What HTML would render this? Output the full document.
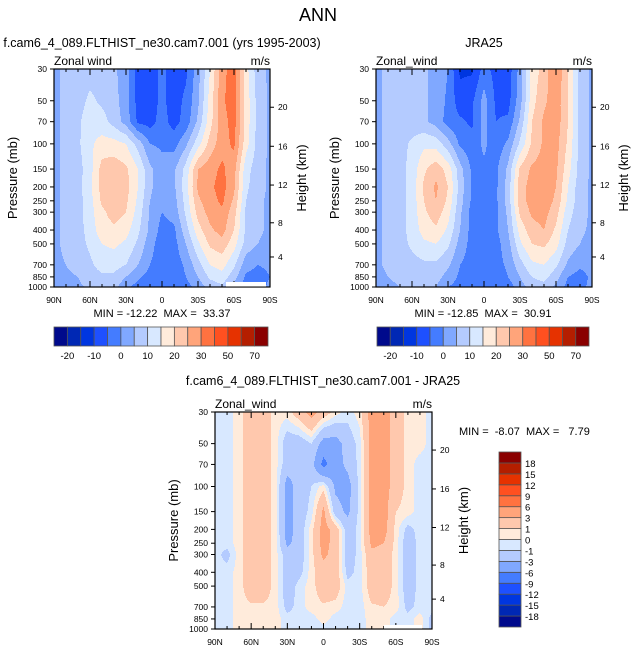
<!DOCTYPE html>
<html><head><meta charset="utf-8"><style>
html,body{margin:0;padding:0;background:#fff;}
svg{display:block;font-family:"Liberation Sans",sans-serif;}
text{white-space:pre;}
</style></head><body>
<svg id="fig" width="636" height="653" viewBox="0 0 636 653" xmlns="http://www.w3.org/2000/svg">
<text x="318" y="21" font-size="18" text-anchor="middle">ANN</text>
<g id="root"></g>
</svg>
<script>
// ---- data ----
const lats = [90,80,70,60,50,40,30,20,10,0,-10,-20,-30,-40,-50,-60,-70,-80,-90];
const levels = [30,50,70,100,150,200,250,300,400,500,700,850,1000];
const pTicks = [30,50,70,100,150,200,250,300,400,500,700,850,1000];
const latTickVals = [90,60,30,0,-30,-60,-90];
const latTickLabels = ["90N","60N","30N","0","30S","60S","90S"];
const hTickLabels = ["4","8","12","16","20"];
const hTickPressures = [617,356,194,104,55.5];
const boundsWind = [-20,-15,-10,-5,0,5,10,15,20,25,30,40,50,60,70];
const windLabels = ["-20","-10","0","10","20","30","50","70"];
const boundsDiff = [-18,-15,-12,-9,-6,-3,-1,0,1,3,6,9,12,15,18];
const diffLabels = ["18","15","12","9","6","3","1","0","-1","-3","-6","-9","-12","-15","-18"];
const colors = ["#000a8c","#0028b4","#0036e0","#1e50ff","#447cff","#80a8ff","#b4cbff","#d8e8ff","#ffebdb","#ffc8ad","#ffa47a","#ff7240","#ff5020","#e63200","#b41e00","#8a0000"];

const modelWind = [
[4,6,8,8,8,6,2,-7,-7,-4,-7,-6,3,15,28,33,17,7,4],
[4,6,8,11,9,7,2,-7,-7,-4,-7,-4,4,17,29,33,18,8,4],
[4,6,9,13,12,8,3,-6,-7,-3,-7,-3,6,18,28,32,18,8,4],
[4,6,9,14,17,17,15,8,0,-1,-2,4,13,22,28,31,17,8,4],
[4,6,8,13,22,23,21,15,6,2,4,12,25,28,31,27,12,7,4],
[4,6,8,14,22,24,22,15,6,2,4,13,26,29,32,26,11,7,4],
[4,6,8,13,21,23,21,14,5,1,3,12,24,28,31,24,10,6,4],
[4,6,8,13,19,22,20,13,4,0,2,11,22,27,29,22,9,6,4],
[4,6,8,12,18,19,17,11,4,-2,-1,8,18,24,27,20,9,6,4],
[4,6,8,11,15,16,14,9,2,-3,-2,5,14,21,23,17,8,5,3],
[4,5,7,9,12,12,10,5,0,-3,-3,1,8,15,17,11,2,0,1],
[3,4,5,8,9,9,5,1,-2,-3,-3,0,5,11,13,7,-1,-2,0],
[2,3,4,6,7,7,1,-2,-3,-4,-3,-2,2,7,9,4,-3,-2,1]];

const obsWind = [
[4,6,7,7,6,3,0,-11,-11,-3,-7,-8,2,17,22,30,20,8,4],
[4,6,7,7,6,3,-1,-8,-6,2,-6,-7,3,18,24,28,20,8,4],
[4,6,7,7,6,3,-2,-4,-6,2,-5,-4,6,20,26,28,20,8,4],
[4,6,8,11,14,13,7,-1,-3,1,-3,1,11,21,26,27,19,8,4],
[4,6,8,12,19,23,18,7,-1,-1,-1,6,21,26,27,26,17,8,4],
[4,6,8,12,21,26,20,8,-1,-2,-1,7,23,27,28,25,15,7,4],
[4,6,8,12,20,25,19,7,-1,-2,-1,7,23,27,28,24,14,7,4],
[4,6,8,12,19,23,17,6,-2,-2,-1,6,21,26,27,22,12,7,4],
[4,6,8,12,17,19,14,5,-2,-2,-1,5,17,23,25,19,10,6,4],
[4,6,8,11,14,15,11,3,-2,-3,-2,3,14,20,21,17,8,5,3],
[4,6,7,8,9,9,6,0,-2,-3,-2,1,8,14,15,11,4,1,2],
[3,5,6,7,7,7,3,-1,-3,-3,-3,0,5,10,12,7,0,-2,1],
[2,4,5,5,6,5,0,-2,-3,-3,-3,-3,3,7,8,4,-2,-1,1]];

const diffWind = [
[-0.5,-0.5,0.5,2,2,0.5,0.5,2,4,2,0.5,-0.5,0.5,4,4,2,0.5,0.5,-0.5],
[-0.5,-0.5,0.5,2,2,0.5,-2,-2,-1,-4,-4,-2,-0.5,4,4,2,0.5,0.5,-0.5],
[-0.5,-0.5,0.5,2,2,0.5,-2,-2,-2,-7,-4,-2.5,-0.5,4,4,2,0.5,-0.5,-0.5],
[-0.5,-0.5,0.5,2,2,0.5,-4,-2,-1,0.5,-3.5,-4,-0.5,4,4,2,0.5,-0.5,-0.5],
[-0.5,-0.5,0.5,2,2,0.5,-4,-2,-0.5,3.5,-2,-3.5,-0.5,4,4,1,0.5,-0.5,-0.5],
[-0.5,-0.5,0.5,2,2,0.5,-4,-2,0.5,4,2,-2,-0.5,4,4,0.5,-1.5,-0.5,-0.5],
[-0.5,-0.5,0.5,2,2,0.5,-3.5,-2,0.5,4,2,-2,-0.5,3.5,3,0.5,-2,-0.5,-0.5],
[-0.5,-1.5,0.5,2,2,0.5,-2,-2,0.5,3.5,2,-2,-0.5,2.5,2,0.5,-2,-0.5,-0.5],
[-0.5,-0.5,0.5,2,2,0.5,-2,-1.5,0.5,2,2,-1.5,-0.5,2,2,0.5,-2,-0.5,-0.5],
[-0.5,-0.5,0.5,2,2,0.5,-2,-0.5,0.5,2,2,-0.5,-0.5,2,2,0.5,-2,-0.5,-0.5],
[-0.5,-0.5,0.5,0.8,0.8,0.5,-1.5,-0.5,0.5,0.8,0.5,-0.5,-0.5,0.8,1,0.5,-1.5,-0.5,-0.5],
[-0.5,-0.5,0.5,0.5,0.5,0.5,-0.5,-0.5,-0.5,0.5,-0.5,-0.5,-0.5,0.5,0.5,-0.5,-0.5,0.5,-1.5],
[-0.5,-0.5,0.5,0.5,0.5,0.5,-0.5,-0.5,-0.5,-0.5,-0.5,-0.5,-0.5,0.5,0.5,-0.5,-0.5,0.5,-1.5]];

// ---- rendering ----
const NS = "http://www.w3.org/2000/svg";
const root = document.getElementById('root');
function mk(tag, attrs, parent){const e=document.createElementNS(NS,tag);for(const k in attrs)e.setAttribute(k,attrs[k]);(parent||root).appendChild(e);return e;}
function txt(x,y,s,size,anchor,parent){const t=mk('text',{x:x,y:y,'font-size':size,'text-anchor':anchor||'start'},parent);t.textContent=s;return t;}
const LP = Math.log(1000/30);

function level(v,bounds){let i=0;while(i<bounds.length&&v>=bounds[i])i++;return i;}
function sample(data,lat,p){
  const lp=Math.log(p);
  let r=0;while(r<levels.length-2&&Math.log(levels[r+1])<lp)r++;
  let ty=(lp-Math.log(levels[r]))/(Math.log(levels[r+1])-Math.log(levels[r]));ty=Math.max(0,Math.min(1,ty));
  let c=0;while(c<lats.length-2&&lats[c+1]>lat)c++;
  let tx=(lats[c]-lat)/(lats[c]-lats[c+1]);tx=Math.max(0,Math.min(1,tx));
  const a=data[r][c]*(1-tx)+data[r][c+1]*tx, b=data[r+1][c]*(1-tx)+data[r+1][c+1]*tx;
  return a*(1-ty)+b*ty;
}

function panel(name,X,Y,W,H,data,bounds,leftLabel){
  const g=mk('g',{});
  
  
  const yOf=p=>Y+H*Math.log(p/30)/LP;
  const xOf=l=>X+W*(90-l)/180;
  const field=mk('g',{},g);
  
  
  for(let py=0;py<H;py++){
    const p=30*Math.exp((py+0.5)/H*LP);
    let start=0,cur=-1;
    for(let px=0;px<=W;px++){
      let k=-1;
      if(px<W){const lat=90-(px+0.5)/W*180;k=level(sample(data,lat,p),bounds);}
      if(k!==cur){
        if(cur>=0){mk('rect',{x:X+start,y:Y+py,width:px-start,height:1.05,fill:colors[cur]},field);}
        cur=k;start=px;
      }
    }
  }
  const frame=mk('rect',{x:X,y:Y,width:W,height:H,fill:'none',stroke:'#000','stroke-width':1.2},g);
  
  
  pTicks.forEach(p=>{const y=yOf(p);
    mk('line',{x1:X-4,x2:X,y1:y,y2:y,stroke:'#000'},g);
    const t=txt(X-7,y+3,String(p),8.5,'end',g);
    
    
  });
  hTickPressures.forEach((p,i)=>{const y=yOf(p);
    mk('line',{x1:X+W,x2:X+W+4,y1:y,y2:y,stroke:'#000'},g);
    const t=txt(X+W+8,y+3,hTickLabels[i],8.5,'start',g);
    
    
  });
  for(let l=90;l>=-90;l-=10){const x=xOf(l);const major=(l%30===0);
    mk('line',{x1:x,x2:x,y1:Y,y2:Y+(major?6:3),stroke:'#000'},g);
    mk('line',{x1:x,x2:x,y1:Y+H,y2:Y+H-(major?6:3),stroke:'#000'},g);}
  latTickVals.forEach((l,i)=>{const t=txt(xOf(l),Y+H+16,latTickLabels[i],8.5,'middle',g);
    
    });
  const yt=txt(0,0,'Pressure (mb)',13,'middle',g);yt.setAttribute('transform',`translate(${X-37},${Y+H/2}) rotate(-90)`);
  
  
  const ht=txt(0,0,'Height (km)',13,'middle',g);ht.setAttribute('transform',`translate(${X+W+36},${Y+H/2}) rotate(-90)`);
  
  
  const lt=txt(X,Y-4,leftLabel,12,'start',g);
  
  
  const ut=txt(X+W,Y-4,'m/s',12,'end',g);
  
  
}

function hbar(name,X,Y,W,H){
  const g=mk('g',{});
  
  
  const bw=W/colors.length;
  colors.forEach((c,i)=>{const r=mk('rect',{x:X+i*bw,y:Y,width:bw,height:H,fill:c,stroke:'#555','stroke-width':0.8},g);
    
    });
  windLabels.forEach((s,i)=>{const t=txt(X+(1+2*i)*bw,Y+H+13,s,9.5,'middle',g);
    
    });
}
function vbar(name,X,Y,W,H){
  const g=mk('g',{});
  
  
  const bh=H/colors.length;
  colors.forEach((c,i)=>{const r=mk('rect',{x:X,y:Y+H-(i+1)*bh,width:W,height:bh,fill:c,stroke:'#555','stroke-width':0.8},g);
    
    });
  diffLabels.forEach((s,i)=>{const t=txt(X+W+4,Y+(i+1)*bh+4,s,9.5,'start',g);
    
    });
}
function label(s,x,y,size,anchor,nm){const t=txt(x,y,s,size,anchor);
  
  }

label('f.cam6_4_089.FLTHIST_ne30.cam7.001 (yrs 1995-2003)',162,47,12.5,'middle','model-panel-title');
label('JRA25',484,47,12.5,'middle','obs-panel-title');
label('f.cam6_4_089.FLTHIST_ne30.cam7.001 - JRA25',323,385,12.5,'middle','diff-panel-title');

panel('model-panel',54,69,216,218,modelWind,boundsWind,'Zonal wind');
const m1=mk('rect',{x:226,y:282,width:40,height:4.5,fill:'#fff'});


panel('obs-panel',376,69,216,218,obsWind,boundsWind,'Zonal_wind');
panel('diff-panel',215,412,217,217,diffWind,boundsDiff,'Zonal_wind');
const m3=mk('rect',{x:384,y:625,width:38,height:3.5,fill:'#fff'});



label('MIN = -12.22  MAX =  33.37',162,317,11,'middle','model-min-max');
label('MIN = -12.85  MAX =  30.91',483,317,11,'middle','obs-min-max');
label('MIN =  -8.07  MAX =   7.79',459,435,11,'start','diff-min-max');

hbar('model-colorbar',54,327,214,19);
hbar('obs-colorbar',377,327,212,19);
vbar('diff-colorbar',499,452,22,175);
</script>
</body></html>
